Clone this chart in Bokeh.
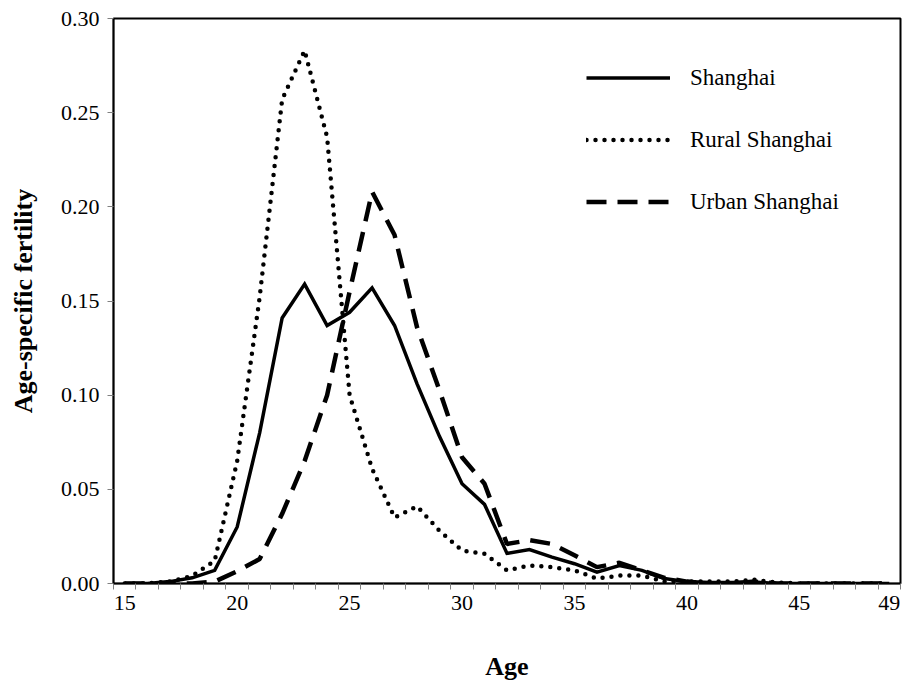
from bokeh.plotting import figure
from bokeh.models import FixedTicker, NumeralTickFormatter, Legend, LegendItem, Range1d
from bokeh.embed import file_html
from bokeh.resources import INLINE

ages = list(range(15, 50))

shanghai = [0.000, 0.000, 0.001, 0.003, 0.007, 0.030, 0.080, 0.141, 0.159, 0.137,
            0.144, 0.157, 0.137, 0.106, 0.078, 0.053, 0.042, 0.016, 0.018, 0.014,
            0.0105, 0.006, 0.0095, 0.007, 0.0026, 0.001, 0.0005, 0.0005, 0.0008, 0.0,
            0.0, 0.0, 0.0, 0.0, 0.0]

rural = [0.000, 0.000, 0.001, 0.004, 0.012, 0.065, 0.152, 0.257, 0.283, 0.237,
         0.100, 0.061, 0.035, 0.041, 0.028, 0.0175, 0.0158, 0.007, 0.0096, 0.0087,
         0.007, 0.0026, 0.0042, 0.0042, 0.001, 0.001, 0.001, 0.001, 0.002, 0.0005,
         0.0, 0.0, 0.0, 0.0, 0.0]

urban = [0.000, 0.000, 0.000, 0.000, 0.001, 0.0065, 0.013, 0.037, 0.065, 0.100,
         0.155, 0.208, 0.185, 0.136, 0.1025, 0.067, 0.053, 0.021, 0.023, 0.021,
         0.015, 0.0087, 0.011, 0.007, 0.003, 0.001, 0.0, 0.0, 0.001, 0.0,
         0.0, 0.0, 0.0, 0.0, 0.0]

series_names = ["Shanghai", "Rural Shanghai", "Urban Shanghai"]
x_tick_values = [15, 20, 25, 30, 35, 40, 45, 49]
y_tick_values = [0.0, 0.05, 0.10, 0.15, 0.20, 0.25, 0.30]

FONT = "Liberation Serif"

p = figure(width=904, height=684, output_backend="svg", toolbar_location=None,
           x_range=Range1d(14.5, 49.5), y_range=Range1d(0, 0.30),
           min_border_left=113, min_border_right=4, min_border_top=18,
           min_border_bottom=101)

p.xgrid.visible = False
p.ygrid.visible = False
p.outline_line_color = "black"
p.outline_line_width = 2
p.background_fill_color = "white"
p.border_fill_color = "white"

# x axis (category-like)
p.xaxis.ticker = FixedTicker(ticks=x_tick_values,
                             minor_ticks=[a + 0.5 for a in range(14, 50)])
p.xaxis.major_tick_out = 0
p.xaxis.major_tick_in = 0
p.xaxis.minor_tick_out = 6
p.xaxis.minor_tick_in = 0
p.xaxis.minor_tick_line_color = "#808080"
p.xaxis.major_label_standoff = 6
p.xaxis.axis_label = "Age"
p.xaxis.axis_label_standoff = 39

# y axis
p.yaxis.ticker = FixedTicker(ticks=y_tick_values)
p.yaxis.formatter = NumeralTickFormatter(format="0.00")
p.yaxis.major_tick_out = 6
p.yaxis.major_tick_in = 0
p.yaxis.minor_tick_out = 0
p.yaxis.minor_tick_in = 0
p.yaxis.major_tick_line_color = "#808080"
p.yaxis.major_label_standoff = 8
p.yaxis.axis_label = "Age-specific fertility"
p.yaxis.axis_label_standoff = 20

for ax in (p.xaxis, p.yaxis):
    ax.axis_line_color = "black"
    ax.axis_line_width = 1.5
    ax.major_label_text_font = FONT
    ax.major_label_text_font_size = "22px"
    ax.major_label_text_color = "black"
    ax.axis_label_text_font = FONT
    ax.axis_label_text_font_size = "26px"
    ax.axis_label_text_font_style = "bold"
    ax.axis_label_text_color = "black"

r1 = p.line(ages, shanghai, line_color="black", line_width=3.5, line_join="miter")
r2 = p.line(ages, rural, line_color="black", line_width=4.5,
            line_dash="0 9", line_cap="round")
r3 = p.line(ages, urban, line_color="black", line_width=4.5, line_dash="20 11")

legend = Legend(items=[LegendItem(label=series_names[0], renderers=[r1]),
                       LegendItem(label=series_names[1], renderers=[r2]),
                       LegendItem(label=series_names[2], renderers=[r3])],
                location=(473, 368))
legend.border_line_alpha = 0
legend.background_fill_alpha = 0
legend.padding = 0
legend.margin = 0
legend.spacing = 35
legend.glyph_width = 84
legend.glyph_height = 27
legend.label_height = 27
legend.label_standoff = 20
legend.label_text_font = FONT
legend.label_text_font_size = "23px"
legend.label_text_color = "black"
p.add_layout(legend)

open("out.html", "w").write(file_html(p, INLINE))
